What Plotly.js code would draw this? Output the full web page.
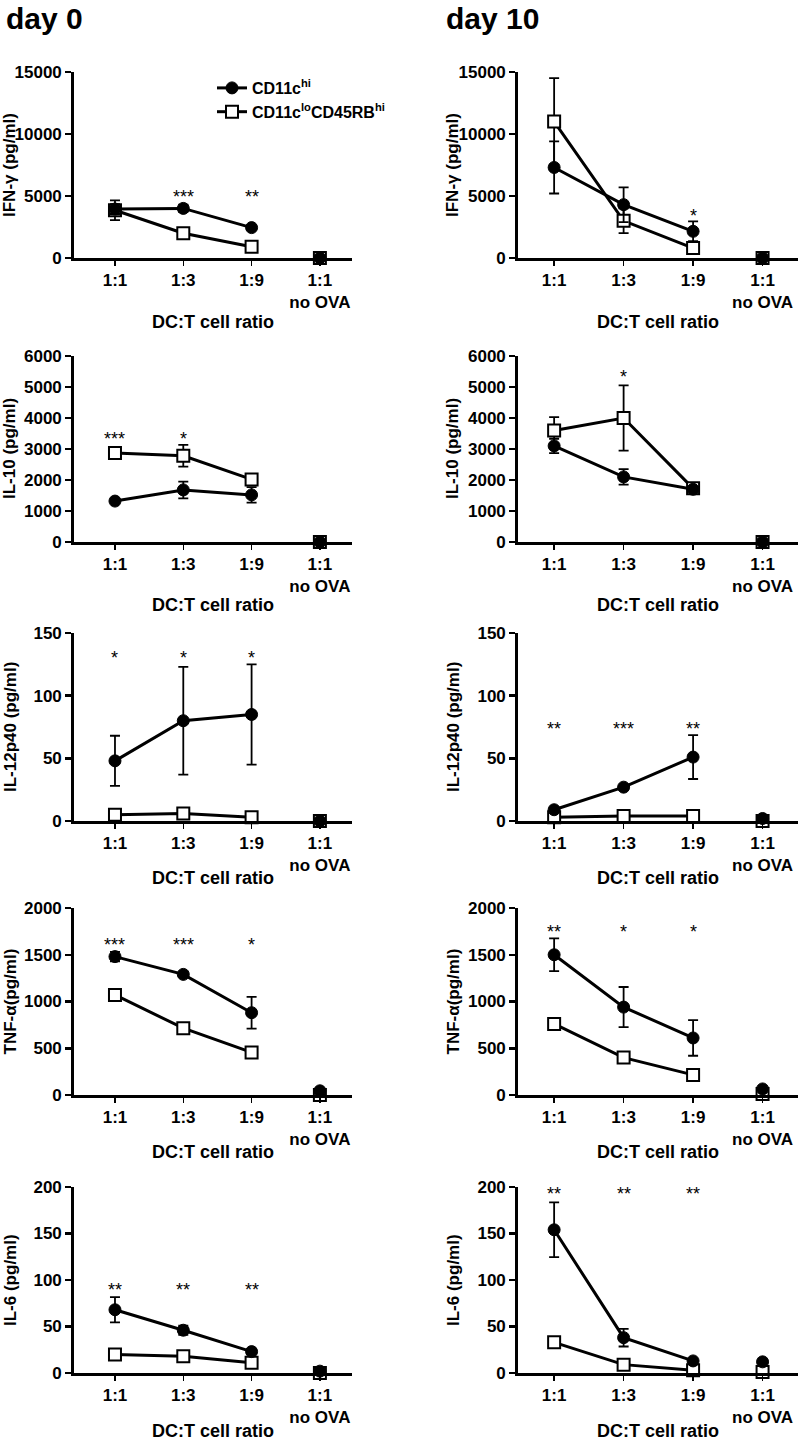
<!DOCTYPE html>
<html><head><meta charset="utf-8">
<script src="https://cdn.plot.ly/plotly-3.0.1.min.js"></script>
<style>html,body{margin:0;padding:0;background:#fff}#chart{width:799px;height:1442px}</style>
</head><body><div id="chart"></div>
<script>
// ---------- DATA ----------
const categories = ['1:1', '1:3', '1:9', '1:1<br>no OVA'];
const seriesNames = ['CD11c<sup>hi</sup>', 'CD11c<sup>lo</sup>CD45RB<sup>hi</sup>'];
const dayTitles = ['day 0', 'day 10'];
const xAxisTitle = 'DC:T cell ratio';
const cytokineTitles = ['IFN-γ (pg/ml)', 'IL-10 (pg/ml)', 'IL-12p40 (pg/ml)', 'TNF-α(pg/ml)', 'IL-6 (pg/ml)'];
const yMax = [15000, 6000, 150, 2000, 200];
const yStep = [5000, 1000, 50, 500, 50];

// IFN-gamma
const ifngDay0Hi = [3950, 4000, 2450, 0];
const ifngDay0HiErr = [400, 300, 0, 0];
const ifngDay0Lo = [3850, 2000, 900, 0];
const ifngDay0LoErr = [800, 0, 0, 0];
const ifngDay0Stars = ['', '***', '**', ''];
const ifngDay10Hi = [7300, 4300, 2150, 0];
const ifngDay10HiErr = [2100, 1400, 800, 0];
const ifngDay10Lo = [11000, 3000, 800, 0];
const ifngDay10LoErr = [3500, 1000, 0, 0];
const ifngDay10Stars = ['', '', '*', ''];

// IL-10
const il10Day0Hi = [1320, 1680, 1520, 0];
const il10Day0HiErr = [0, 270, 250, 0];
const il10Day0Lo = [2870, 2780, 2020, 0];
const il10Day0LoErr = [0, 350, 0, 0];
const il10Day0Stars = ['***', '*', '', ''];
const il10Day10Hi = [3100, 2100, 1700, 0];
const il10Day10HiErr = [230, 250, 0, 0];
const il10Day10Lo = [3600, 4000, 1730, 0];
const il10Day10LoErr = [430, 1050, 0, 0];
const il10Day10Stars = ['', '*', '', ''];

// IL-12p40
const il12Day0Hi = [48, 80, 85, 0];
const il12Day0HiErr = [20, 43, 40, 0];
const il12Day0Lo = [5, 6, 3, 0];
const il12Day0LoErr = [0, 0, 0, 0];
const il12Day0Stars = ['*', '*', '*', ''];
const il12Day10Hi = [9, 27, 51, 2];
const il12Day10HiErr = [0, 0, 17.5, 0];
const il12Day10Lo = [3, 4, 4, 0];
const il12Day10LoErr = [0, 0, 0, 0];
const il12Day10Stars = ['**', '***', '**', ''];

// TNF-alpha
const tnfDay0Hi = [1480, 1290, 880, 45];
const tnfDay0HiErr = [50, 0, 170, 0];
const tnfDay0Lo = [1070, 715, 455, 0];
const tnfDay0LoErr = [0, 0, 0, 0];
const tnfDay0Stars = ['***', '***', '*', ''];
const tnfDay10Hi = [1500, 940, 610, 65];
const tnfDay10HiErr = [175, 215, 190, 0];
const tnfDay10Lo = [760, 400, 215, 10];
const tnfDay10LoErr = [0, 0, 0, 0];
const tnfDay10Stars = ['**', '*', '*', ''];

// IL-6
const il6Day0Hi = [68, 46, 23, 2];
const il6Day0HiErr = [13.5, 5, 0, 0];
const il6Day0Lo = [20, 18, 11, 0];
const il6Day0LoErr = [0, 0, 0, 0];
const il6Day0Stars = ['**', '**', '**', ''];
const il6Day10Hi = [154, 38, 13, 12];
const il6Day10HiErr = [29.5, 9.5, 0, 0];
const il6Day10Lo = [33, 9, 3, 1];
const il6Day10LoErr = [0, 0, 0, 0];
const il6Day10Stars = ['**', '**', '**', ''];

// table built from the arrays above: rows = cytokines, cols = days
const panels = [
  [[ifngDay0Hi, ifngDay0HiErr, ifngDay0Lo, ifngDay0LoErr, ifngDay0Stars], [ifngDay10Hi, ifngDay10HiErr, ifngDay10Lo, ifngDay10LoErr, ifngDay10Stars]],
  [[il10Day0Hi, il10Day0HiErr, il10Day0Lo, il10Day0LoErr, il10Day0Stars], [il10Day10Hi, il10Day10HiErr, il10Day10Lo, il10Day10LoErr, il10Day10Stars]],
  [[il12Day0Hi, il12Day0HiErr, il12Day0Lo, il12Day0LoErr, il12Day0Stars], [il12Day10Hi, il12Day10HiErr, il12Day10Lo, il12Day10LoErr, il12Day10Stars]],
  [[tnfDay0Hi, tnfDay0HiErr, tnfDay0Lo, tnfDay0LoErr, tnfDay0Stars], [tnfDay10Hi, tnfDay10HiErr, tnfDay10Lo, tnfDay10LoErr, tnfDay10Stars]],
  [[il6Day0Hi, il6Day0HiErr, il6Day0Lo, il6Day0LoErr, il6Day0Stars], [il6Day10Hi, il6Day10HiErr, il6Day10Lo, il6Day10LoErr, il6Day10Stars]]
];

// ---------- LAYOUT (positions / styles) ----------
const W = 799, H = 1442;
const px = p => p / W;
const py = p => 1 - p / H;
const colPx = [[74, 352], [518, 798]];
const rowPx = [[72, 258], [356, 542], [633, 821], [908, 1095], [1187, 1373]];
const xRanges = [[-0.6, 3.47], [-0.52, 3.51]];
const xTitleY = [322, 605, 878, 1152, 1431];
const yTitleX = [10, 453];
const starHeight = [[5260, 3730], [3450, 5440], [133, 76.6], [1648, 1784], [93.5, 196.7]];
const FONT = 'Liberation Sans, Arial, Helvetica, sans-serif';

const traces = [];
const layout = {
  width: W, height: H,
  margin: {l: 0, r: 0, t: 0, b: 0},
  paper_bgcolor: '#fff', plot_bgcolor: 'rgba(0,0,0,0)',
  font: {family: FONT, color: '#000'},
  showlegend: true,
  legend: {x: px(212), y: py(71), xanchor: 'left', yanchor: 'top',
           bgcolor: 'rgba(0,0,0,0)', font: {size: 16, weight: 700, family: FONT},
           tracegroupgap: 0, itemwidth: 30},
  annotations: []
};

function errObj(arr) {
  return {type: 'data', array: arr, symmetric: true, visible: true,
          color: '#000', thickness: 1.8, width: 5};
}

for (let r = 0; r < 5; r++) {
  for (let c = 0; c < 2; c++) {
    const idx = r * 2 + c + 1;
    const sfx = idx === 1 ? '' : String(idx);
    const xa = 'x' + sfx, ya = 'y' + sfx;
    const [hi, hiErr, lo, loErr, stars] = panels[r][c];

    layout['xaxis' + sfx] = {
      domain: [px(colPx[c][0]), px(colPx[c][1])],
      anchor: ya, type: 'category', categoryorder: 'array', categoryarray: categories,
      range: xRanges[c], showline: true, linecolor: '#000', linewidth: 2.8,
      ticks: 'outside', ticklen: 5, tickwidth: 1.5, tickcolor: '#000',
      tickfont: {size: 17, weight: 700, family: FONT},
      showgrid: false, zeroline: false, fixedrange: true
    };
    layout['yaxis' + sfx] = {
      domain: [py(rowPx[r][1]), py(rowPx[r][0])],
      anchor: xa, range: [0, yMax[r]], tickmode: 'linear', tick0: 0, dtick: yStep[r],
      tickformat: 'd', exponentformat: 'none', separatethousands: false,
      showline: true, linecolor: '#000', linewidth: 2.8,
      ticks: 'outside', ticklen: 6, tickwidth: 2.5, tickcolor: '#000',
      tickfont: {size: 17, weight: 700, family: FONT},
      showgrid: false, zeroline: false, fixedrange: true
    };

    const first3 = categories.slice(0, 3);
    const sqMarker = {symbol: 'square', size: 12, color: '#fff', line: {color: '#000', width: 2}};
    const ciMarker = {symbol: 'circle', size: 12, color: '#000', line: {color: '#000', width: 1}};
    // open squares (drawn first)
    traces.push({
      type: 'scatter', mode: 'lines+markers', x: first3, y: lo.slice(0, 3),
      error_y: errObj(loErr.slice(0, 3)), xaxis: xa, yaxis: ya,
      name: seriesNames[1], legendgroup: 'lo', legendrank: 2, showlegend: idx === 1,
      line: {color: '#000', width: 3}, marker: sqMarker,
      cliponaxis: false, hoverinfo: 'skip'
    });
    traces.push({
      type: 'scatter', mode: 'markers', x: [categories[3]], y: [lo[3]],
      error_y: errObj([loErr[3]]), xaxis: xa, yaxis: ya,
      name: seriesNames[1], legendgroup: 'lo', showlegend: false,
      marker: sqMarker, cliponaxis: false, hoverinfo: 'skip'
    });
    // filled circles
    traces.push({
      type: 'scatter', mode: 'lines+markers', x: first3, y: hi.slice(0, 3),
      error_y: errObj(hiErr.slice(0, 3)), xaxis: xa, yaxis: ya,
      name: seriesNames[0], legendgroup: 'hi', legendrank: 1, showlegend: idx === 1,
      line: {color: '#000', width: 3}, marker: ciMarker,
      cliponaxis: false, hoverinfo: 'skip'
    });
    traces.push({
      type: 'scatter', mode: 'markers', x: [categories[3]], y: [hi[3]],
      error_y: errObj([hiErr[3]]), xaxis: xa, yaxis: ya,
      name: seriesNames[0], legendgroup: 'hi', showlegend: false,
      marker: ciMarker, cliponaxis: false, hoverinfo: 'skip'
    });

    // significance stars
    stars.forEach((s, i) => {
      if (!s) return;
      layout.annotations.push({
        xref: xa, yref: ya, x: categories[i], y: starHeight[r][c], text: s,
        showarrow: false, yshift: -4, xanchor: 'center', yanchor: 'middle',
        font: {size: 18, weight: 400, family: FONT, color: '#000'}
      });
    });

    // x-axis title
    layout.annotations.push({
      xref: 'paper', yref: 'paper', x: px((colPx[c][0] + colPx[c][1]) / 2), y: py(xTitleY[r]),
      text: xAxisTitle, showarrow: false, xanchor: 'center', yanchor: 'middle',
      font: {size: 18, weight: 700, family: FONT, color: '#000'}
    });
    // y-axis title
    layout.annotations.push({
      xref: 'paper', yref: 'paper', x: px(yTitleX[c]), y: py((rowPx[r][0] + rowPx[r][1]) / 2),
      text: cytokineTitles[r], textangle: -90, showarrow: false, xanchor: 'center', yanchor: 'middle',
      font: {size: 17, weight: 700, family: FONT, color: '#000'}
    });
  }
}

// column titles
[4, 444].forEach((xp, c) => {
  layout.annotations.push({
    xref: 'paper', yref: 'paper', x: px(xp), y: py(19), text: dayTitles[c],
    showarrow: false, xanchor: 'left', yanchor: 'middle',
    font: {size: 30, weight: 700, family: FONT, color: '#000'}
  });
});

Plotly.newPlot('chart', traces, layout, {staticPlot: true, displayModeBar: false});
</script>
</body></html>
